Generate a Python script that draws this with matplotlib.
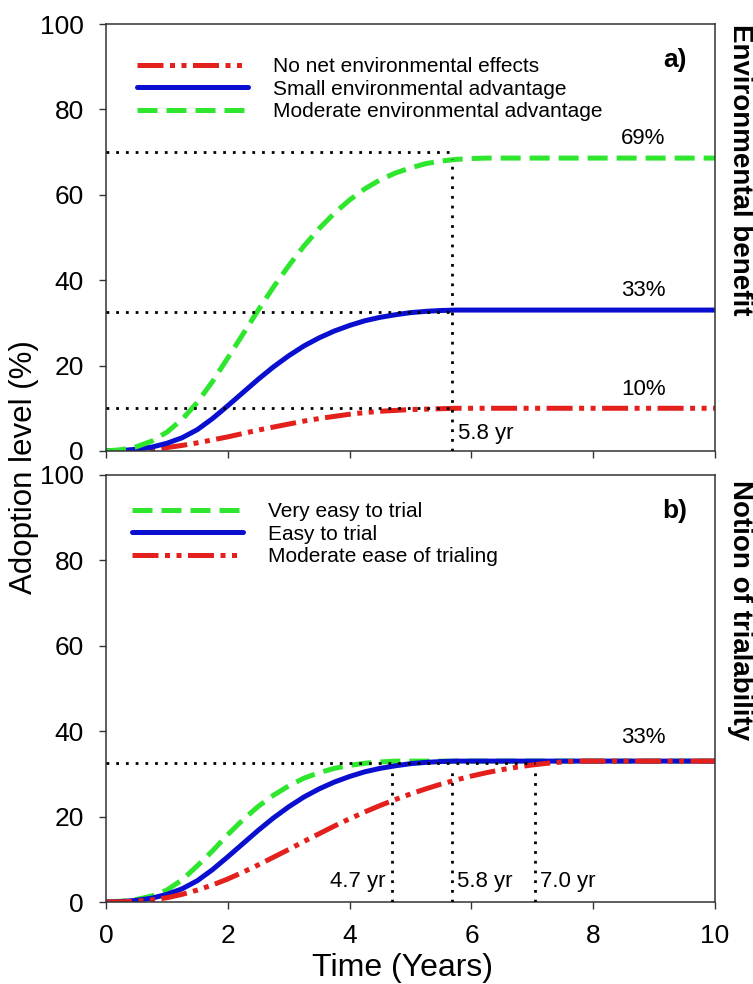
import matplotlib
matplotlib.use("Agg")
import matplotlib.pyplot as plt

plt.rcParams['font.family'] = ['Liberation Sans', 'DejaVu Sans']

# ---------------- data ----------------
years = [0, 0.25, 0.5, 0.75, 1.0, 1.25, 1.5, 1.75, 2.0, 2.25, 2.5, 2.75, 3.0, 3.25, 3.5,
         3.75, 4.0, 4.25, 4.5, 4.75, 5.0, 5.25, 5.5, 5.75, 6.0, 6.25, 6.5, 6.75, 7.0,
         7.25, 7.5, 7.75, 8.0, 9.0, 10.0]

# panel a) environmental benefit
no_net_effects = [0, 0.05, 0.2, 0.4, 0.8, 1.3, 1.9, 2.6, 3.3, 4.1, 4.9, 5.6, 6.3, 7.0, 7.6,
                  8.1, 8.6, 9.0, 9.3, 9.5, 9.7, 9.8, 9.9, 10.0, 10.0] + [10.0] * 10
small_advantage = [0, 0.1, 0.4, 0.9, 1.8, 3.1, 5.0, 7.6, 10.6, 13.7, 16.8, 19.7, 22.3, 24.6,
                   26.5, 28.1, 29.4, 30.5, 31.3, 31.9, 32.4, 32.7, 32.9, 33.0, 33.0] + [33.0] * 10
moderate_advantage = [0, 0.3, 1.0, 2.3, 4.4, 7.4, 11.4, 16.3, 21.8, 27.4, 33.0, 38.4, 43.4,
                      48.0, 52.1, 55.7, 58.8, 61.4, 63.5, 65.1, 66.3, 67.3, 67.9, 68.3,
                      68.5] + [68.6] * 10

# panel b) trialability
very_easy = [0, 0.2, 0.6, 1.4, 2.8, 5.2, 8.5, 12.0, 15.8, 19.3, 22.4, 25.0, 27.2, 29.0,
             30.3, 31.3, 32.0, 32.5, 32.8, 33.0] + [33.0] * 15
easy = [0, 0.1, 0.4, 0.9, 1.8, 3.1, 5.0, 7.6, 10.6, 13.7, 16.8, 19.7, 22.3, 24.6,
        26.5, 28.1, 29.4, 30.5, 31.3, 31.9, 32.4, 32.7, 32.9, 33.0, 33.0] + [33.0] * 10
moderate_ease = [0, 0.05, 0.2, 0.5, 1.0, 1.8, 2.8, 4.0, 5.4, 7.0, 8.7, 10.5, 12.3, 14.2,
                 16.0, 17.8, 19.5, 21.1, 22.6, 24.0, 25.3, 26.5, 27.6, 28.6, 29.5, 30.3,
                 31.0, 31.6, 32.1, 32.5, 32.8, 33.0, 33.0, 33.0, 33.0]

labels_a = ["No net environmental effects", "Small environmental advantage",
            "Moderate environmental advantage"]
labels_b = ["Very easy to trial", "Easy to trial", "Moderate ease of trialing"]

levels_a = [70, 32.6, 10]
pct_a = ["69%", "33%", "10%"]
pct_a_y = [73.3, 37.7, 14.3]
time_a = 5.68
level_b = 32.6
times_b = [4.69, 5.68, 7.05]
time_labels_b = ["4.7 yr", "5.8 yr", "7.0 yr"]

# ---------------- styling ----------------
RED = '#e3201b'
BLUE = '#0a0fcf'
GREEN = '#2ee62e'
LW = 3.6
style_red = dict(color=RED, lw=LW, dashes=(5.2, 1.3, 1.0, 1.3, 1.0, 1.3))
style_blue = dict(color=BLUE, lw=LW, solid_capstyle='round')
style_green = dict(color=GREEN, lw=LW, dashes=(4.0, 1.8))
dot = dict(color='black', lw=2.0, linestyle=(0, (1, 2.5)), zorder=5)

ANN = 16
LEG = 15

fig = plt.figure(figsize=(7.53, 9.84), dpi=100)
ax_a = fig.add_axes([0.1408, 0.5417, 0.8088, 0.4339])
ax_b = fig.add_axes([0.1408, 0.0833, 0.8088, 0.434])

for ax in (ax_a, ax_b):
    ax.set_xlim(0, 10)
    ax.set_ylim(0, 100)
    ax.set_xticks([0, 2, 4, 6, 8, 10])
    ax.set_yticks([0, 20, 40, 60, 80, 100])
    ax.tick_params(axis='both', labelsize=19, length=5, width=1.0, color='#333333')
    ax.tick_params(axis='y', pad=11)
    ax.tick_params(axis='x', pad=11)
    for s in ax.spines.values():
        s.set_linewidth(1.1)
        s.set_color('#333333')

ax_a.tick_params(axis='x', labelbottom=False)

# panel a
la1, = ax_a.plot(years, no_net_effects, **style_red)
la2, = ax_a.plot(years, small_advantage, **style_blue)
la3, = ax_a.plot(years, moderate_advantage, **style_green)
for lv in levels_a:
    ax_a.plot([0, time_a], [lv, lv], **dot)
ax_a.plot([time_a, time_a], [0, levels_a[0] - 1.5], **dot)
for t, yy in zip(pct_a, pct_a_y):
    ax_a.text(8.82, yy, t, fontsize=ANN, ha='center', va='center')
ax_a.text(time_a + 0.1, 4.2, "5.8 yr", fontsize=ANN, ha='left', va='center')
ax_a.text(0.934, 0.916, "a)", transform=ax_a.transAxes, fontsize=19, fontweight='bold',
          ha='center', va='center')
ax_a.legend([la1, la2, la3], labels_a, loc='upper left', bbox_to_anchor=(0.051, 0.923),
            frameon=False, fontsize=LEG, handlelength=5.33, handletextpad=1.2,
            labelspacing=0.18, borderpad=0, borderaxespad=0)

# panel b
lb1, = ax_b.plot(years, very_easy, **style_green)
lb2, = ax_b.plot(years, easy, **style_blue)
lb3, = ax_b.plot(years, moderate_ease, **style_red)
ax_b.plot([0, times_b[-1]], [level_b, level_b], **dot)
for t in times_b:
    ax_b.plot([t, t], [0, level_b - 0.8], **dot)
ax_b.text(8.82, 38.6, "33%", fontsize=ANN, ha='center', va='center')
ax_b.text(times_b[0] - 0.1, 4.7, time_labels_b[0], fontsize=ANN, ha='right', va='center')
ax_b.text(times_b[1] + 0.08, 4.7, time_labels_b[1], fontsize=ANN, ha='left', va='center')
ax_b.text(times_b[2] + 0.08, 4.7, time_labels_b[2], fontsize=ANN, ha='left', va='center')
ax_b.text(0.934, 0.916, "b)", transform=ax_b.transAxes, fontsize=19, fontweight='bold',
          ha='center', va='center')
ax_b.legend([lb1, lb2, lb3], labels_b, loc='upper left', bbox_to_anchor=(0.043, 0.937),
            frameon=False, fontsize=LEG, handlelength=5.33, handletextpad=1.2,
            labelspacing=0.18, borderpad=0, borderaxespad=0)

# figure labels
fig.text(24 / 753, 1 - 467 / 984, "Adoption level (%)", rotation=90, fontsize=22.5,
         ha='center', va='center')
fig.text(403 / 753, 1 - 968 / 984, "Time (Years)", fontsize=23, ha='center', va='center')
fig.text(740 / 753, 1 - 170 / 984, "Environmental benefit", rotation=-90, fontsize=20,
         fontweight='bold', ha='center', va='center')
fig.text(740 / 753, 1 - 610 / 984, "Notion of trialability", rotation=-90, fontsize=20,
         fontweight='bold', ha='center', va='center')

fig.savefig("out.png", dpi=100)
